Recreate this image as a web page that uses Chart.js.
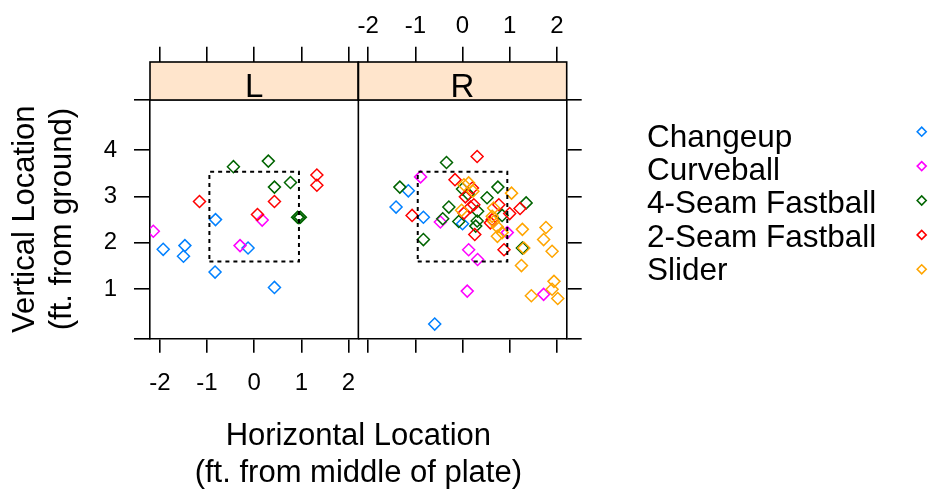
<!DOCTYPE html>
<html lang="en">
<head>
  <meta charset="UTF-8">
  <title>Pitch Locations by Batter Stance</title>
  <script src="https://cdn.jsdelivr.net/npm/chart.js"></script>
  <style>
    body { margin: 0; background: #fff; }
    #wrap { width: 935px; height: 496px; }
  </style>
</head>
<body>
<div id="wrap"><canvas id="pitchChart" width="935" height="496"></canvas></div>

<script>
// pitch types, in legend order
const pitchTypes = ['Changeup', 'Curveball', '4-Seam Fastball', '2-Seam Fastball', 'Slider'];
const pitchColors = ['#0080ff', '#ff00ff', '#006400', '#ff0000', '#ffa500'];

// L batters: [horizontal ft, vertical ft]
const changeupL = [[-1.93, 1.86], [-1.47, 1.94], [-1.50, 1.71], [-0.82, 2.50], [-0.13, 1.89], [-0.83, 1.37], [0.43, 1.04]];
const curveballL = [[-2.14, 2.25], [-0.30, 1.94], [0.17, 2.49]];
const fourSeamL = [[-0.44, 3.64], [0.30, 3.76], [0.43, 3.20], [0.77, 3.30], [0.92, 2.55], [0.95, 2.54], [0.98, 2.55]];
const twoSeamL = [[-1.16, 2.89], [0.07, 2.61], [0.43, 2.89], [1.33, 3.46], [1.33, 3.24]];
const sliderL = [];

// R batters
const changeupR = [[-1.41, 2.77], [-1.15, 3.12], [-0.83, 2.55], [0.00, 2.41], [-0.59, 0.25]];
const curveballR = [[-0.89, 3.42], [-0.47, 2.45], [0.13, 1.85], [0.32, 1.64], [0.10, 0.96], [0.95, 2.22], [1.72, 0.89]];
const fourSeamR = [[-0.34, 3.73], [-1.33, 3.20], [-0.83, 2.07], [-0.29, 2.77], [-0.42, 2.52], [-0.08, 2.46],
  [0.00, 3.16], [0.32, 2.68], [0.28, 2.36], [0.52, 2.97], [0.75, 3.20], [0.84, 2.59], [1.35, 2.86],
  [1.27, 1.89], [0.31, 2.47], [0.12, 3.05]];
const twoSeamR = [[0.31, 3.86], [-0.16, 3.36], [-1.07, 2.59], [0.06, 2.99], [0.21, 3.18], [0.17, 2.77],
  [0.03, 2.64], [0.26, 2.18], [0.77, 2.82], [1.00, 2.63], [1.22, 2.74], [0.59, 2.43], [0.88, 1.85],
  [0.24, 2.82], [0.63, 2.50]];
const sliderR = [[0.13, 3.29], [0.22, 3.11], [-0.02, 2.70], [0.03, 3.25], [1.04, 3.07], [0.66, 2.75],
  [0.66, 2.46], [0.74, 2.14], [0.84, 2.22], [0.74, 2.34], [1.27, 2.29], [1.30, 1.89], [1.25, 1.51],
  [1.77, 2.33], [1.72, 2.07], [1.90, 1.82], [1.94, 1.17], [1.90, 1.00], [1.46, 0.86], [2.02, 0.80],
  [0.63, 2.57]];

// strike zone corners
const zoneX = [-0.95, 0.95];
const zoneY = [1.6, 3.53];

// axes
const xTickValues = [-2, -1, 0, 1, 2];
const yTickValues = [1, 2, 3, 4];
const X_MIN = -2.21, X_MAX = 2.21;
const Y_MIN = -0.056, Y_MAX = 5.076;

const panels = [
  { axis: 'xL', label: 'L', groups: [changeupL, curveballL, fourSeamL, twoSeamL, sliderL] },
  { axis: 'xR', label: 'R', groups: [changeupR, curveballR, fourSeamR, twoSeamR, sliderR] }
];

const FONT = "'Liberation Sans', Arial, sans-serif";
Chart.defaults.font.family = FONT;
Chart.defaults.color = '#000';

const datasets = [];
panels.forEach(p => {
  datasets.push({
    xAxisID: p.axis, yAxisID: 'y', order: 0,
    data: [[zoneX[0], zoneY[0]], [zoneX[1], zoneY[0]], [zoneX[1], zoneY[1]], [zoneX[0], zoneY[1]], [zoneX[0], zoneY[0]]]
      .map(([x, y]) => ({ x, y })),
    showLine: true, borderColor: '#000', borderWidth: 2, borderDash: [4, 4], pointRadius: 0
  });
  p.groups.forEach((g, i) => {
    datasets.push({
      label: pitchTypes[i], xAxisID: p.axis, yAxisID: 'y', order: pitchTypes.length - i,
      data: g.map(([x, y]) => ({ x, y })),
      pointStyle: 'rectRot', pointRadius: 6, pointBorderWidth: 1.5,
      borderColor: pitchColors[i], backgroundColor: 'rgba(0,0,0,0)'
    });
  });
});

const setTicks = vals => s => { s.ticks = vals.map(v => ({ value: v })); };
const frame = { color: '#000', width: 1.6 };
const tickGrid = len => ({ drawOnChartArea: false, tickLength: len, color: '#000', lineWidth: 1.6 });
const tickFont = { size: 24 };

function xScale(position, stack, showLabels, tickLen, pad, size) {
  return {
    type: 'linear', position, stack, min: X_MIN, max: X_MAX,
    afterBuildTicks: setTicks(xTickValues),
    afterFit: s => { s.height = size; },
    grid: tickGrid(tickLen), border: frame,
    ticks: { display: showLabels, font: tickFont, padding: pad, maxRotation: 0, autoSkip: false }
  };
}

// strips, panel divider and key
const panelDecor = {
  id: 'panelDecor',
  afterDraw(chart) {
    const { ctx, chartArea: a, scales } = chart;
    const stripTop = 62;
    ctx.save();
    ctx.lineWidth = 1.6;
    ctx.strokeStyle = '#000';
    panels.forEach(p => {
      const s = scales[p.axis];
      ctx.fillStyle = '#ffe5cc';
      ctx.fillRect(s.left, stripTop, s.right - s.left, a.top - stripTop);
      ctx.strokeRect(s.left, stripTop, s.right - s.left, a.top - stripTop);
      ctx.fillStyle = '#000';
      ctx.font = '33px ' + FONT;
      ctx.textAlign = 'center';
      ctx.textBaseline = 'alphabetic';
      ctx.fillText(p.label, (s.left + s.right) / 2, 96.5);
    });
    const mid = scales.xL.right;
    ctx.beginPath();
    ctx.moveTo(mid, stripTop);
    ctx.lineTo(mid, a.bottom);
    ctx.stroke();

    // key: names on the left, symbols in a column on the right
    ctx.font = '31.5px ' + FONT;
    ctx.textAlign = 'left';
    pitchTypes.forEach((name, i) => {
      ctx.fillStyle = '#000';
      ctx.fillText(name, 647, 146.5 + 33.4 * i);
      ctx.strokeStyle = pitchColors[i];
      ctx.fillStyle = 'rgba(0,0,0,0)';
      Chart.helpers.drawPoint(ctx, { pointStyle: 'rectRot', radius: 4.5, borderWidth: 1.5 }, 921.7, 131.7 + 34.4 * i);
    });
    ctx.restore();
  }
};

new Chart(document.getElementById('pitchChart'), {
  type: 'scatter',
  data: { datasets },
  options: {
    responsive: false,
    animation: false,
    layout: { padding: { left: 0, right: 352.3, top: 0, bottom: 0 } },
    plugins: {
      legend: { display: false },
      tooltip: { enabled: false },
      title: {
        display: true, position: 'bottom', fullSize: false,
        text: ['Horizontal Location', '(ft. from middle of plate)'],
        font: { size: 31, weight: 'normal', lineHeight: 1.2 }, color: '#000',
        padding: { top: 0, bottom: 4.2 }
      }
    },
    scales: {
      y: {
        type: 'linear', position: 'left', min: Y_MIN, max: Y_MAX,
        afterBuildTicks: setTicks([Y_MIN, ...yTickValues, Y_MAX]),
        afterFit: s => { s.width = 150; },
        grid: tickGrid(16), border: frame,
        ticks: { font: tickFont, padding: 17, callback: v => yTickValues.includes(v) ? v : '' },
        title: {
          display: true, text: ['Vertical Location', '(ft. from ground)'],
          font: { size: 31, lineHeight: 1.2 }, color: '#000', padding: { top: 6.4, bottom: 0 }
        }
      },
      yR: {
        type: 'linear', position: 'right', min: Y_MIN, max: Y_MAX,
        afterBuildTicks: setTicks([Y_MIN, ...yTickValues, Y_MAX]),
        afterFit: s => { s.width = 16; },
        grid: tickGrid(15), border: frame,
        ticks: { display: false }
      },
      xL: xScale('bottom', 'xb', true, 14.5, 16, 79.1),
      xR: xScale('bottom', 'xb', false, 14.5, 16, 79.1),
      // top boxes are laid out in reverse order, so the right one comes first
      xRt: xScale('top', 'xt', true, 53.3, 6, 100),
      xLt: xScale('top', 'xt', false, 53.3, 6, 100)
    }
  },
  plugins: [panelDecor]
});
</script>
</body>
</html>
